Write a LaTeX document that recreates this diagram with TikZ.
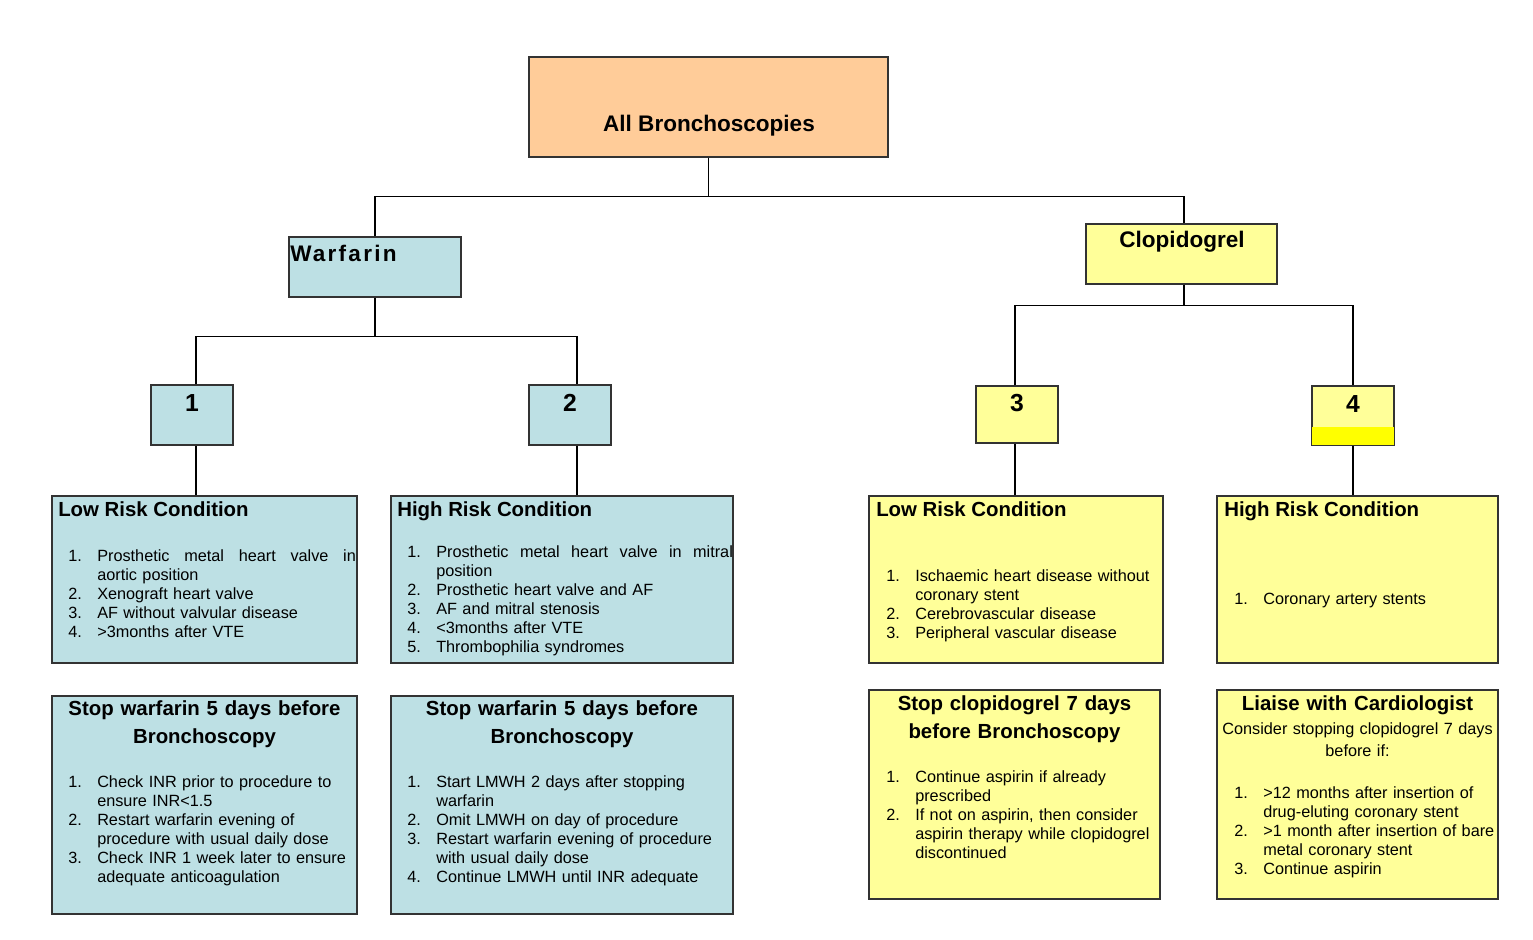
\documentclass[tikz,border=0pt]{standalone}
\usepackage{fontspec}
\setmainfont{Liberation Sans}
\newfontfamily\spacedfont[LetterSpace=10]{Liberation Sans}
\usetikzlibrary{fit}

\definecolor{wblue}{RGB}{189,224,228}
\definecolor{cyellow}{RGB}{255,255,153}
\definecolor{torange}{RGB}{255,204,153}
\definecolor{band}{RGB}{255,255,0}

\newcommand{\bodysize}{\fontsize{12.2}{14.25}\selectfont}
\newcommand{\headsize}{\fontsize{15.3}{21}\selectfont\bfseries}
\newcommand{\bigsize}{\fontsize{16.9}{20}\selectfont\bfseries}
\newcommand{\litem}[2]{\hangindent=21.75pt\hangafter=1\noindent
  \makebox[21.75pt][l]{#1}#2\par}

\tikzset{
  box/.style={draw=black!80, line width=0.9pt, inner sep=0pt},
  wbox/.style={box, fill=wblue},
  cbox/.style={box, fill=cyellow},
  link/.style={line width=0.9pt},
  num/.style={anchor=base, inner sep=0pt, font=\fontsize{18.5}{20}\selectfont\bfseries},
  head/.style={anchor=base west, inner sep=0pt, font=\headsize},
  chead/.style={anchor=base, inner sep=0pt, text width=300pt, align=center, font=\headsize},
  list/.style={anchor=base west, inner sep=0pt, text width=300pt, align=left, font=\bodysize},
}

\begin{document}
\begin{tikzpicture}[x=0.75pt, y=-0.75pt]
\useasboundingbox (0,0) rectangle (1533,939);

% top level
\node[box, fill=torange, fit={(529,57) (888,157)}] (all) {};
\node[anchor=base, inner sep=0pt, font=\bigsize] (allt) at (709,131) {All Bronchoscopies};

\node[wbox, fit={(289,237) (461,297)}] (warf) {};
\node[anchor=base west, inner sep=0pt, font=\spacedfont\bigsize] (warft) at (290,261) {Warfarin};
\node[cbox, fit={(1086,224) (1277,284)}] (clop) {};
\node[anchor=base, inner sep=0pt, font=\bigsize] (clopt) at (1182,247) {Clopidogrel};

% numbered boxes
\node[wbox, fit={(151,385) (233,445)}] (n1) {};
\node[num] (n1t) at (192,411) {1};
\node[wbox, fit={(529,385) (611,445)}] (n2) {};
\node[num] (n2t) at (570,411) {2};
\node[cbox, fit={(976,386) (1058,443)}] (n3) {};
\node[num] (n3t) at (1017,411) {3};
\node[cbox, fit={(1312,386) (1394,445)}] (n4) {};
\fill[band] (n4.south west) rectangle ([yshift=14.25pt]n4.south east);
\draw[black!80, line width=0.9pt] (n4.south west) rectangle (n4.north east);
\node[num] (n4t) at (1353,412) {4};

% condition boxes
\node[wbox, fit={(52,496) (357,663)}] (lowW) {};
\node[wbox, fit={(391,496) (733,663)}] (highW) {};
\node[cbox, fit={(869,496) (1163,663)}] (lowC) {};
\node[cbox, fit={(1217,496) (1498,663)}] (highC) {};

\node[head] (lowWt) at (58,516) {Low Risk Condition};
\node[list] (lowWl) at (68,561) {%
  \litem{1.}{\makebox[194pt][s]{Prosthetic\hfill metal\hfill heart\hfill valve\hfill in}\newline aortic position}%
  \litem{2.}{Xenograft heart valve}%
  \litem{3.}{AF without valvular disease}%
  \litem{4.}{>3months after VTE}};

\node[head] (highWt) at (397,516) {High Risk Condition};
\node[list] (highWl) at (407,557) {%
  \litem{1.}{\makebox[222.5pt][s]{Prosthetic\hfill metal\hfill heart\hfill valve\hfill in\hfill mitral}\newline position}%
  \litem{2.}{Prosthetic heart valve and AF}%
  \litem{3.}{AF and mitral stenosis}%
  \litem{4.}{<3months after VTE}%
  \litem{5.}{Thrombophilia syndromes}};

\node[head] (lowCt) at (876,516) {Low Risk Condition};
\node[list] (lowCl) at (886,581) {%
  \litem{1.}{Ischaemic heart disease without\newline coronary stent}%
  \litem{2.}{Cerebrovascular disease}%
  \litem{3.}{Peripheral vascular disease}};

\node[head] (highCt) at (1224,516) {High Risk Condition};
\node[list] (highCl) at (1234,604) {%
  \litem{1.}{Coronary artery stents}};

% action boxes
\node[wbox, fit={(52,696) (357,914)}] (stopW1) {};
\node[wbox, fit={(391,696) (733,914)}] (stopW2) {};
\node[cbox, fit={(869,690) (1160,899)}] (stopC) {};
\node[cbox, fit={(1217,690) (1498,899)}] (liaise) {};

\node[chead] (stopW1t) at (204.5,715) {Stop warfarin 5 days before\\Bronchoscopy};
\node[list] (stopW1l) at (68,787) {%
  \litem{1.}{Check INR prior to procedure to\newline ensure INR<1.5}%
  \litem{2.}{Restart warfarin evening of\newline procedure with usual daily dose}%
  \litem{3.}{Check INR 1 week later to ensure\newline adequate anticoagulation}};

\node[chead] (stopW2t) at (562,715) {Stop warfarin 5 days before\\Bronchoscopy};
\node[list] (stopW2l) at (407,787) {%
  \litem{1.}{Start LMWH 2 days after stopping\newline warfarin}%
  \litem{2.}{Omit LMWH on day of procedure}%
  \litem{3.}{Restart warfarin evening of procedure\newline with usual daily dose}%
  \litem{4.}{Continue LMWH until INR adequate}};

\node[chead] (stopCt) at (1014.5,710) {Stop clopidogrel 7 days\\before Bronchoscopy};
\node[list] (stopCl) at (886,782) {%
  \litem{1.}{Continue aspirin if already\newline prescribed}%
  \litem{2.}{If not on aspirin, then consider\newline aspirin therapy while clopidogrel\newline discontinued}};

\node[chead] (liaiset) at (1357.5,710) {Liaise with Cardiologist};
\node[anchor=base, inner sep=0pt, text width=300pt, align=center,
  font=\fontsize{12.2}{16.5}\selectfont] (liaises) at (1357.5,734)
  {Consider stopping clopidogrel 7 days\\before if:};
\node[list] (liaisel) at (1234,798) {%
  \litem{1.}{>12 months after insertion of\newline drug-eluting coronary stent}%
  \litem{2.}{>1 month after insertion of bare\newline metal coronary stent}%
  \litem{3.}{Continue aspirin}};

% connectors
\draw[link] (all.south) -- ++(0,39) coordinate (topbus);
\draw[link] (warf.north) |- (topbus) -| ([xshift=1.9pt]clop.north);
\draw[link] (warf.south) -- ++(0,39) coordinate (wbus);
\draw[link] ([xshift=3pt]n1.north) |- (wbus) -| ([xshift=5.25pt]n2.north);
\draw[link] ([xshift=1.9pt]clop.south) -- ++(0,21) coordinate (cbus);
\draw[link] ([xshift=-1.5pt]n3.north) |- (cbus) -| (n4.north);
\draw[link] ([xshift=3pt]n1.south) -- ([xshift=3pt]n1.south |- lowW.north);
\draw[link] ([xshift=5.25pt]n2.south) -- ([xshift=5.25pt]n2.south |- highW.north);
\draw[link] ([xshift=-1.5pt]n3.south) -- ([xshift=-1.5pt]n3.south |- lowC.north);
\draw[link] (n4.south) -- (n4.south |- highC.north);
\end{tikzpicture}
\end{document}
